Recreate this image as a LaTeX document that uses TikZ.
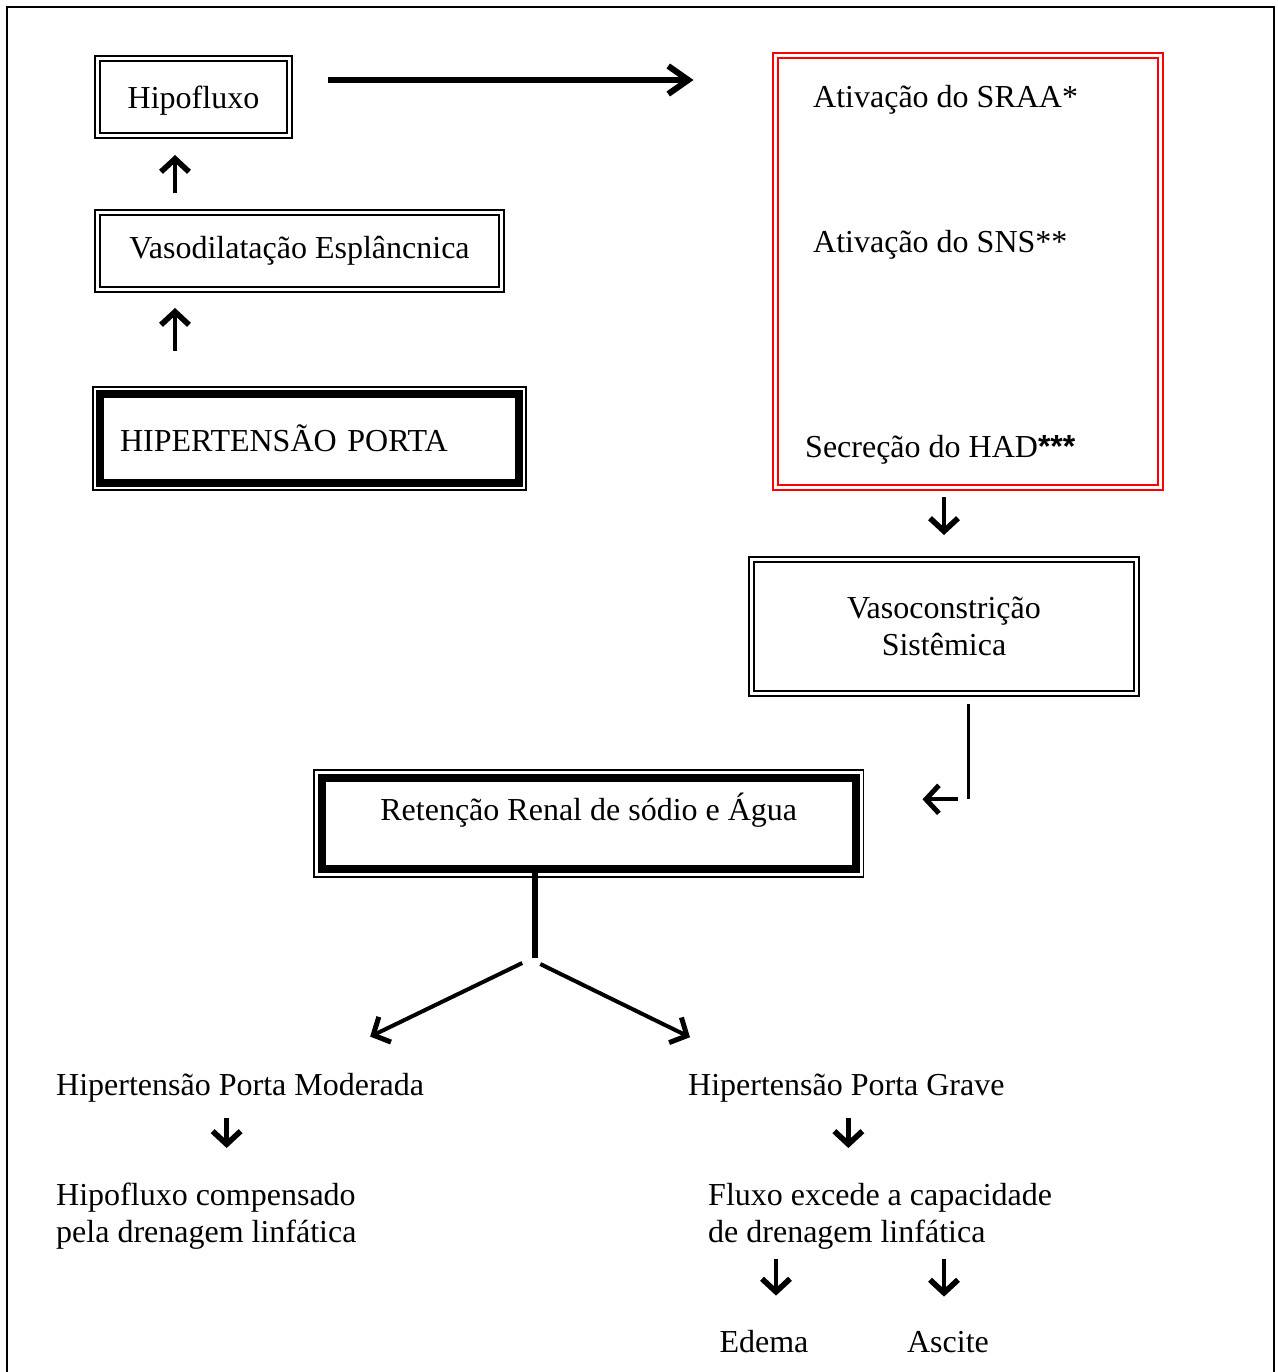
\documentclass[tikz,border=0pt]{standalone}
\usepackage{fontspec}
\setmainfont{Liberation Serif}
\newfontfamily\starfont{Liberation Sans}
\usetikzlibrary{arrows.meta}
\tikzset{
  dblbox/.style   = {draw, double, line width=2pt, double distance=3pt, inner sep=0pt, outer sep=0pt},
  redbox/.style   = {draw=red, double, line width=2pt, double distance=3pt, inner sep=0pt, outer sep=0pt},
  heavybox/.style = {draw, line width=8pt, inner sep=0pt, outer sep=0pt},
  rim/.style      = {line width=1.5pt},
  txt/.style      = {inner sep=0pt},
  arr/.style      = {-{Straight Barb[length=13pt,width=28pt,line width=0pt 1.25]}, line width=#1},
  arr/.default    = 4.5pt,
  bigarr/.style   = {-{Straight Barb[length=20pt,width=28pt,line width=0pt 1.1]}, line width=5.5pt},
  thinarr/.style  = {arr=4pt},
}

\begin{document}
\begin{tikzpicture}[x=1pt, y=-1pt, font=\fontsize{32}{37}\selectfont]
    \useasboundingbox (0,0) rectangle (1277,1372);
    \draw [line width=2pt] (7,1372) -- (7,7) -- (1274,7) -- (1274,1372);

    % left column
    \node [dblbox, minimum width=192pt, minimum height=77pt, text depth=0pt] (hipo) at (193.5,97) {Hipofluxo};
    \node [dblbox, minimum width=404pt, minimum height=77pt] (vasod) at (299.5,251) {Vasodilatação Esplâncnica};
    \node [heavybox, minimum width=419pt, minimum height=89pt, text width=379pt, inner xsep=20pt, align=left] (hiper) at (309.5,438.5) {HIPERTENSÃO PORTA};
    \draw [rim] ([shift={(-7,-7)}]hiper.north west) rectangle ([shift={(7,7)}]hiper.south east);

    % right column
    \node [redbox, minimum width=385pt, minimum height=432pt] (raas) at (968,271.5) {};
    \node [txt, anchor=base west] (sraa) at (813,108) {Ativação do SRAA*};
    \node [txt, anchor=base west] (sns) at (813,253) {Ativação do SNS**};
    \node [txt, anchor=base west] (had) at (805,457) {Secreção do HAD{\starfont\bfseries ***}};
    \node [dblbox, line width=2.2pt, minimum width=384.6pt, minimum height=133.6pt, align=center] (vasoc) at (944,626.5) {Vasoconstrição\\Sistêmica};

    % middle
    \node [heavybox, minimum width=533.5pt, minimum height=91pt, text depth=33.5pt] (reten) at (588.75,823.5) {Retenção Renal de sódio e Água};
    \draw [rim] ([shift={(-8,-8)}]reten.north west) rectangle ([shift={(8,8)}]reten.south east);

    % bottom
    \node [txt, anchor=base west] (mod) at (56,1095) {Hipertensão Porta Moderada};
    \node [txt, anchor=north west, align=left] (comp) at (56,1183) {Hipofluxo compensado\\pela drenagem linfática};
    \node [txt, anchor=base west] (grave) at (688,1095) {Hipertensão Porta Grave};
    \node [txt, anchor=north west, align=left] (fluxo) at (708,1183) {Fluxo excede a capacidade\\de drenagem linfática};
    \node [txt, anchor=base] (edema) at (764,1352) {Edema};
    \node [txt, anchor=base] (ascite) at (948,1352) {Ascite};

    % connectors
    \draw [bigarr, shorten <=38pt, shorten >=82pt] ([yshift=17pt]hipo.east) -- ([yshift=17pt]hipo.east -| raas.west);
    \draw [arr, shorten <=19.5pt, shorten >=19.5pt] ([xshift=-18.5pt]hipo.south |- vasod.north) -- ([xshift=-18.5pt]hipo.south);
    \draw [arr, shorten <=43.5pt, shorten >=18.5pt] ([xshift=-18.5pt]hipo.south |- hiper.north) -- ([xshift=-18.5pt]hipo.south |- vasod.south);
    \draw [arr, shorten <=9.5pt, shorten >=24.7pt] (raas.south -| vasoc.north) -- (vasoc.north);
    \draw [line width=3pt, shorten <=10.7pt] ([xshift=24pt]vasoc.south) -- ++(0,106) coordinate (bend);
    \draw [thinarr, shorten <=10pt, shorten >=67pt] (bend) -- (bend -| reten.east);
    \draw [line width=6pt] ([xshift=-53.5pt]reten.south) -- ++(0,89) coordinate (fork);
    \draw [thinarr] ([shift={(-13,5)}]fork) -- ([shift={(130,-36)}]mod.north);
    \draw [thinarr] ([shift={(5,6)}]fork) -- ([shift={(2,-36)}]grave.north west);
    \draw [arr, shorten <=16pt, shorten >=35pt] ([xshift=-13.5pt]mod.south) -- ([xshift=-13.5pt]mod.south |- comp.north);
    \draw [arr, shorten <=16pt, shorten >=35pt] ([xshift=2pt]grave.south) -- ([xshift=2pt]grave.south |- fluxo.north);
    \draw [arr, shorten <=9pt, shorten >=34pt] ([xshift=12pt]edema.north |- fluxo.south) -- ([xshift=12pt]edema.north);
    \draw [arr, shorten <=9pt, shorten >=34pt] ([xshift=-4pt]ascite.north |- fluxo.south) -- ([xshift=-4pt]ascite.north);
\end{tikzpicture}
\end{document}
